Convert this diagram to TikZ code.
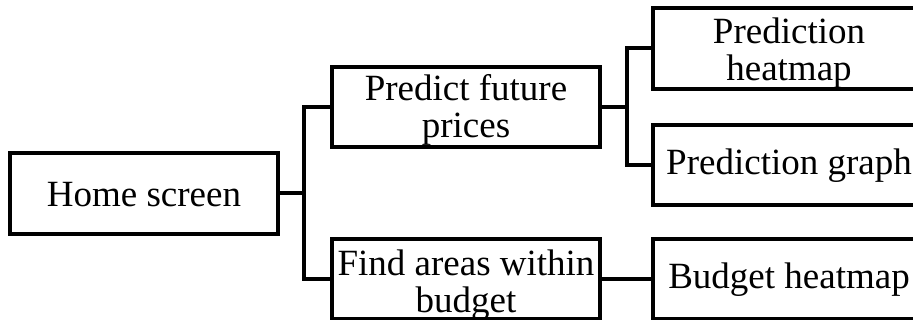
\documentclass[tikz,border=0pt]{standalone}
\usepackage{fontspec}
\setmainfont{Liberation Serif}
\begin{document}
\begin{tikzpicture}[x=1pt,y=-1pt,
  box/.style={draw=black,line width=4pt,rectangle,inner sep=0pt,minimum width=268pt,minimum height=80pt},
  wide/.style={box,minimum width=272pt},
  txt/.style={inner sep=0pt,align=center,font=\fontsize{37}{37}\selectfont},
  link/.style={draw=black,line width=4pt}]
\useasboundingbox (0,0) rectangle (913,320);
\clip (0,0) rectangle (913,320);

% first level
\node[box,minimum height=81pt] (home) at (144,193.5) {};
\node[txt] (homeT) at ([yshift=-1pt]home.center) {Home screen};

% second level
\node[box] (pred) at (466,107) {};
\node[txt] (predT) at ([yshift=-3pt]pred.center) {Predict future\\prices};
\node[box] (find) at (466,279) {};
\node[txt] (findT) at ([yshift=-6pt]find.center) {Find areas within\\budget};

% third level
\node[wide,minimum height=81pt] (ph) at (789,48.5) {};
\node[txt] (phT) at ([yshift=-5pt]ph.center) {Prediction\\heatmap};
\node[wide] (pg) at (789,165) {};
\node[txt] (pgT) at ([yshift=-1pt]pg.center) {Prediction graph};
\node[wide] (bh) at (789,279) {};
\node[txt] (bhT) at ([yshift=-1pt]bh.center) {Budget heatmap};

% junction points of the tree
\coordinate (j1) at (304,193.5);
\coordinate (j2) at (627,107);

% connectors
\draw[link] (home.east) -- (j1);
\draw[link] (pred.west) -| (j1) |- (find.west);
\draw[link] (pred.east) -- (j2);
\draw[link] (ph.west) -| (j2) |- (pg.west);
\draw[link] (find.east) -- (bh.west);
\end{tikzpicture}
\end{document}
